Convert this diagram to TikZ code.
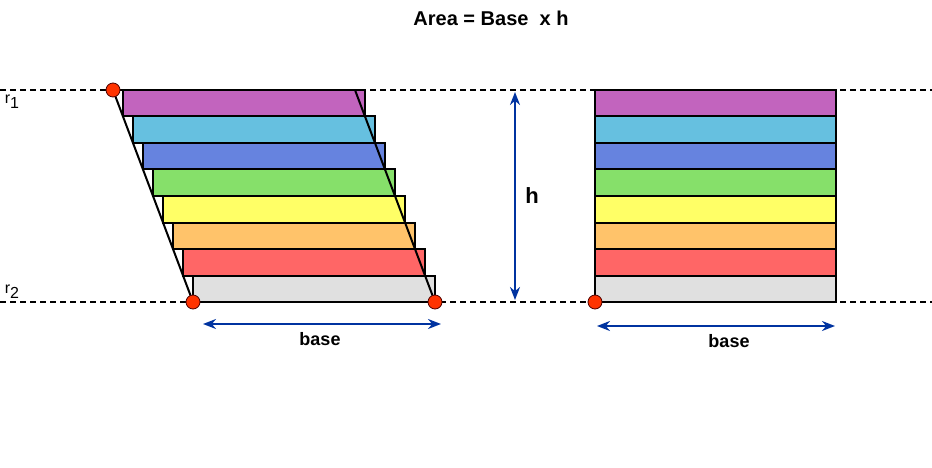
\documentclass[tikz,border=0pt]{standalone}
\usepackage{fontspec}
\setmainfont{Liberation Sans}
\usetikzlibrary{arrows.meta}
\definecolor{c1}{HTML}{C264BE}\definecolor{c2}{HTML}{66C0E0}
\definecolor{c3}{HTML}{6683DF}\definecolor{c4}{HTML}{86E06A}
\definecolor{c5}{HTML}{FFFF66}\definecolor{c6}{HTML}{FFC36A}
\definecolor{c7}{HTML}{FF6666}\definecolor{c8}{HTML}{E0E0E0}
\definecolor{arr}{HTML}{0033A0}\definecolor{dotc}{HTML}{FF3300}
\tikzset{strip/.style={draw=black,line width=2pt},
 dim/.style={draw=arr,line width=2.2pt,{Stealth[length=13pt,width=10pt]}-{Stealth[length=13pt,width=10pt]}},
 dot/.style={circle,fill=dotc,draw=black!70!red,line width=0.8pt,inner sep=0pt,minimum size=14pt},
 lbl/.style={font=\bfseries\fontsize{18}{20}\selectfont},
 rl/.style={font=\fontsize{16}{18}\selectfont}}
\begin{document}
\begin{tikzpicture}[x=1pt,y=-1pt]
\useasboundingbox (0,0) rectangle (932,468);
\node[font=\bfseries\fontsize{20}{24}\selectfont] (title) at (491,18) {Area = Base\ \ x h};
\draw[dash pattern=on 6pt off 4pt,line width=2pt] (0,90) -- (932,90);
\draw[dash pattern=on 6pt off 4pt,line width=2pt] (0,302) -- (932,302);
\node[rl] (r1) at (12,102) {r\raisebox{-5pt}{1}};
\node[rl] (r2) at (12,292) {r\raisebox{-5pt}{2}};
\foreach \c [count=\i from 0] in {c1,c2,c3,c4,c5,c6,c7,c8}{
  \draw[strip,fill=\c] (123+10*\i,90+26.5*\i) rectangle (365+10*\i,116.5+26.5*\i);
  \draw[strip,fill=\c] (595,90+26.5*\i) rectangle (836,116.5+26.5*\i);
}
\coordinate (a) at (113,90); \coordinate (b) at (193,302);
\coordinate (c) at (355,90); \coordinate (d) at (435,302);
\draw[line width=2pt] (a) -- (b);
\draw[line width=2pt] (c) -- (d);
\node[dot] (p1) at (a) {}; \node[dot] (p2) at (b) {}; \node[dot] (p3) at (d) {};
\node[dot] (p4) at (595,302) {};
\coordinate (h1) at (515,92); \coordinate (h2) at (515,300);
\draw[dim] (h1) -- (h2);
\node[font=\bfseries\fontsize{22}{24}\selectfont] (h) at (532,196) {h};
\coordinate (b1) at (203,324); \coordinate (b2) at (441,324);
\draw[dim] (b1) -- (b2);
\node[lbl] (bl) at (320,339) {base};
\coordinate (b3) at (597,326); \coordinate (b4) at (835,326);
\draw[dim] (b3) -- (b4);
\node[lbl] (br) at (729,341) {base};
\end{tikzpicture}
\end{document}
